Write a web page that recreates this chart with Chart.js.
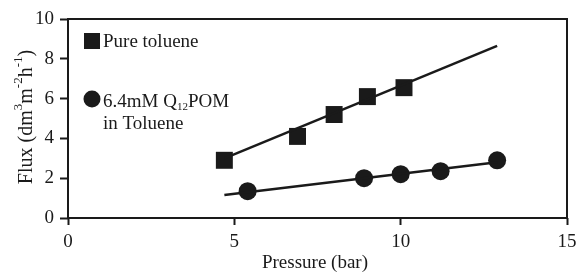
<!DOCTYPE html>
<html>
<head>
<meta charset="utf-8">
<script src="https://cdn.jsdelivr.net/npm/chart.js@4/dist/chart.umd.min.js"></script>
<style>
  html, body { margin: 0; padding: 0; background: #fff; }
  #wrap { width: 579px; height: 272px; }
</style>
</head>
<body>
<div id="wrap"><canvas id="chart"></canvas></div>
<script>
// values
const pressureToluene = [4.7, 6.9, 8.0, 9.0, 10.1];
const fluxToluene = [2.9, 4.1, 5.2, 6.1, 6.55];
const pressurePom = [5.4, 8.9, 10.0, 11.2, 12.9];
const fluxPom = [1.35, 2.0, 2.2, 2.35, 2.9];

// fitted lines (ends)
const trendTolueneX = [4.7, 12.9];
const trendTolueneY = [3.0, 8.65];
const trendPomX = [4.7, 12.9];
const trendPomY = [1.15, 2.8];

const xTicks = [0, 5, 10, 15];
const yTicks = [0, 2, 4, 6, 8, 10];

const FONT = "'Liberation Serif', 'Times New Roman', serif";
const INK = '#1a1a1a';

function pts(xs, ys) {
  return xs.map((x, i) => ({ x: x, y: ys[i] }));
}

// draw a run of text pieces, some raised or lowered
function richText(ctx, parts, x, y, align) {
  let total = 0;
  parts.forEach(p => {
    ctx.font = p.size + 'px ' + FONT;
    total += ctx.measureText(p.t).width;
  });
  let cx = align === 'center' ? x - total / 2 : x;
  parts.forEach(p => {
    ctx.font = p.size + 'px ' + FONT;
    ctx.fillText(p.t, cx, y - (p.dy || 0));
    cx += ctx.measureText(p.t).width;
  });
}

const extras = {
  id: 'extras',
  afterDraw(chart) {
    const ctx = chart.ctx;
    const a = chart.chartArea;
    ctx.save();
    // frame
    ctx.strokeStyle = INK;
    ctx.lineWidth = 2;
    ctx.strokeRect(a.left, a.top, a.right - a.left, a.bottom - a.top);

    ctx.fillStyle = INK;
    ctx.textBaseline = 'alphabetic';
    ctx.textAlign = 'left';

    // x title
    richText(ctx, [{ t: 'Pressure (bar)', size: 19 }], 315, 268, 'center');

    // y title, rotated
    ctx.save();
    ctx.translate(32, 117);
    ctx.rotate(-Math.PI / 2);
    richText(ctx, [
      { t: 'Flux (dm', size: 20 },
      { t: '3', size: 13, dy: 10 },
      { t: 'm', size: 20 },
      { t: '-2', size: 13, dy: 10 },
      { t: 'h', size: 20 },
      { t: '-1', size: 13, dy: 10 },
      { t: ')', size: 20 }
    ], 0, 0, 'center');
    ctx.restore();

    // legend
    ctx.fillRect(84, 33, 16, 16);
    richText(ctx, [{ t: 'Pure toluene', size: 19 }], 103, 47, 'left');
    ctx.beginPath();
    ctx.arc(92, 99, 8.5, 0, Math.PI * 2);
    ctx.fill();
    richText(ctx, [
      { t: '6.4mM Q', size: 19 },
      { t: '12', size: 11, dy: -3 },
      { t: 'POM', size: 19 }
    ], 103, 107, 'left');
    richText(ctx, [{ t: 'in Toluene', size: 19 }], 103, 129, 'left');
    ctx.restore();
  }
};

new Chart(document.getElementById('chart'), {
  type: 'scatter',
  data: {
    datasets: [
      {
        label: 'fit toluene',
        data: pts(trendTolueneX, trendTolueneY),
        showLine: true,
        borderColor: INK,
        borderWidth: 2.5,
        pointRadius: 0
      },
      {
        label: 'fit POM',
        data: pts(trendPomX, trendPomY),
        showLine: true,
        borderColor: INK,
        borderWidth: 2.5,
        pointRadius: 0
      },
      {
        label: 'Pure toluene',
        data: pts(pressureToluene, fluxToluene),
        pointStyle: 'rect',
        pointRadius: 12,
        backgroundColor: INK,
        borderColor: INK,
        borderWidth: 0
      },
      {
        label: '6.4mM Q12POM in Toluene',
        data: pts(pressurePom, fluxPom),
        pointStyle: 'circle',
        pointRadius: 9,
        backgroundColor: INK,
        borderColor: INK,
        borderWidth: 0
      }
    ]
  },
  options: {
    responsive: true,
    maintainAspectRatio: false,
    animation: false,
    layout: { padding: { top: 19, right: 10, left: 0, bottom: 0 } },
    plugins: {
      legend: { display: false },
      tooltip: { enabled: false }
    },
    scales: {
      x: {
        type: 'linear',
        min: 0,
        max: 15,
        afterBuildTicks: s => { s.ticks = xTicks.map(v => ({ value: v })); },
        afterFit: s => { s.height = 54; s.paddingLeft = 0; s.paddingRight = 0; },
        border: { display: false },
        grid: { drawOnChartArea: false, drawTicks: true, tickLength: 7, tickWidth: 2, tickColor: INK },
        ticks: { color: INK, font: { family: FONT, size: 19 }, padding: 6, maxRotation: 0 }
      },
      y: {
        type: 'linear',
        min: 0,
        max: 10,
        afterBuildTicks: s => { s.ticks = yTicks.map(v => ({ value: v })); },
        afterFit: s => { s.width = 68; s.paddingTop = 0; s.paddingBottom = 0; },
        border: { display: false },
        grid: { drawOnChartArea: false, drawTicks: true, tickLength: 8, tickWidth: 2, tickColor: INK },
        ticks: { color: INK, font: { family: FONT, size: 19 }, padding: 6 }
      }
    }
  },
  plugins: [extras]
});
</script>
</body>
</html>
